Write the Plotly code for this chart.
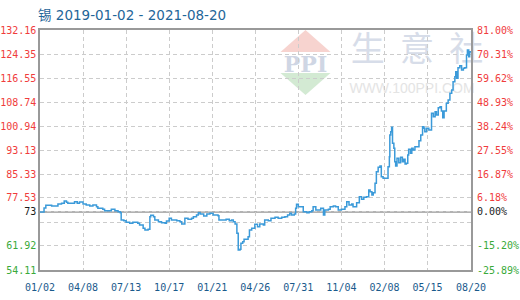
import plotly.graph_objects as go

# ---------------- data ----------------
dates = [
    "2019-01-02", "2019-01-11", "2019-01-15", "2019-01-28", "2019-02-10", "2019-02-11", "2019-02-19",
    "2019-02-25", "2019-03-02", "2019-03-05", "2019-03-19", "2019-03-20", "2019-03-26", "2019-03-31",
    "2019-04-08", "2019-04-15", "2019-04-23", "2019-04-30", "2019-05-08", "2019-05-11", "2019-05-19",
    "2019-05-22", "2019-05-26", "2019-06-03", "2019-06-10", "2019-06-18", "2019-06-25", "2019-06-30",
    "2019-07-02", "2019-07-08", "2019-07-13", "2019-07-21", "2019-07-28", "2019-08-08", "2019-08-12",
    "2019-08-20", "2019-08-24", "2019-08-31", "2019-09-04", "2019-09-06", "2019-09-12", "2019-09-15",
    "2019-09-23", "2019-09-30", "2019-10-08", "2019-10-11", "2019-10-17", "2019-10-22", "2019-11-03",
    "2019-11-10", "2019-11-14", "2019-11-19", "2019-11-21", "2019-11-28", "2019-12-06", "2019-12-10",
    "2019-12-17", "2019-12-21", "2019-12-25", "2020-01-02", "2020-01-09", "2020-01-16", "2020-01-23",
    "2020-02-03", "2020-02-05", "2020-02-14", "2020-02-21", "2020-02-28", "2020-03-04", "2020-03-08",
    "2020-03-12", "2020-03-16", "2020-03-19", "2020-03-23", "2020-03-25", "2020-03-29", "2020-04-01",
    "2020-04-05", "2020-04-10", "2020-04-13", "2020-04-18", "2020-04-25", "2020-05-01", "2020-05-06",
    "2020-05-14", "2020-05-17", "2020-05-25", "2020-05-31", "2020-06-09", "2020-06-16", "2020-06-24",
    "2020-07-01", "2020-07-07", "2020-07-12", "2020-07-16", "2020-07-22", "2020-07-25", "2020-07-27",
    "2020-07-31", "2020-08-06", "2020-08-11", "2020-08-19", "2020-08-24", "2020-08-30", "2020-09-02",
    "2020-09-08", "2020-09-13", "2020-09-19", "2020-09-25", "2020-09-28", "2020-10-06", "2020-10-10",
    "2020-10-17", "2020-10-22", "2020-10-28", "2020-11-04", "2020-11-12", "2020-11-16", "2020-11-21",
    "2020-11-27", "2020-11-30", "2020-12-04", "2020-12-08", "2020-12-14", "2020-12-19", "2020-12-24",
    "2020-12-30", "2021-01-04", "2021-01-07", "2021-01-11", "2021-01-14", "2021-01-18", "2021-01-21",
    "2021-01-25", "2021-01-29", "2021-02-01", "2021-02-05", "2021-02-13", "2021-02-16", "2021-02-19",
    "2021-02-20", "2021-02-22", "2021-02-24", "2021-02-26", "2021-03-01", "2021-03-03", "2021-03-05",
    "2021-03-08", "2021-03-12", "2021-03-16", "2021-03-20", "2021-03-23", "2021-03-26", "2021-03-29",
    "2021-04-01", "2021-04-03", "2021-04-07", "2021-04-10", "2021-04-13", "2021-04-17", "2021-04-22",
    "2021-04-26", "2021-04-30", "2021-05-04", "2021-05-07", "2021-05-09", "2021-05-13", "2021-05-18",
    "2021-05-24", "2021-05-28", "2021-06-01", "2021-06-04", "2021-06-08", "2021-06-12", "2021-06-15",
    "2021-06-18", "2021-06-21", "2021-06-26", "2021-06-30", "2021-07-04", "2021-07-08", "2021-07-11",
    "2021-07-15", "2021-07-17", "2021-07-19", "2021-07-22", "2021-07-26", "2021-07-30", "2021-08-03",
    "2021-08-06", "2021-08-10", "2021-08-12", "2021-08-15", "2021-08-17", "2021-08-20",
]
prices = [
    73.00, 74.27, 75.15, 74.92, 74.92, 75.57, 75.80,
    76.54, 76.12, 75.80, 75.80, 76.32, 75.80, 76.20,
    75.57, 75.24, 74.92, 75.24, 74.69, 74.17, 74.17,
    73.85, 73.39, 73.39, 73.85, 73.39, 73.07, 72.74,
    70.37, 70.14, 69.62, 69.29, 69.62, 69.29, 68.74,
    67.67, 67.11, 67.34, 71.42, 71.89, 71.42, 70.37,
    69.81, 69.49, 69.29, 70.04, 70.92, 70.37, 70.14,
    69.81, 69.06, 69.06, 70.92, 70.59, 70.92, 71.42,
    71.98, 72.74, 72.31, 71.67, 72.31, 72.54, 71.99,
    71.76, 70.37, 70.37, 70.59, 70.14, 70.37, 69.81,
    69.06, 66.04, 60.60, 60.84, 62.79, 63.31, 64.09,
    64.09, 64.94, 67.11, 67.67, 68.97, 68.19, 69.06,
    68.74, 70.37, 70.14, 70.92, 71.24, 70.92, 71.24,
    71.44, 71.99, 72.54, 71.99, 72.31, 74.17, 75.47,
    74.69, 74.69, 73.07, 72.74, 73.07, 73.39, 74.69,
    73.62, 73.62, 74.17, 71.99, 73.62, 73.85, 74.69,
    74.92, 74.69, 73.62, 73.85, 74.69, 76.32, 75.24,
    75.57, 74.69, 74.69, 75.99, 77.94, 77.10, 77.75,
    77.94, 80.12, 79.57, 78.50, 79.24, 82.30, 86.07,
    87.50, 87.93, 84.45, 83.93, 83.93, 87.70, 90.95,
    98.01, 99.08, 100.51, 95.31, 93.68, 89.33, 87.93,
    90.43, 89.00, 90.76, 89.33, 90.11, 88.58, 88.81,
    91.50, 93.36, 92.06, 93.68, 93.13, 94.20, 94.20,
    96.15, 98.01, 100.71, 100.19, 99.08, 100.19, 99.63,
    105.07, 103.96, 105.59, 104.51, 106.89, 107.21, 105.81,
    103.63, 105.81, 108.32, 109.39, 111.57, 112.64, 115.34,
    116.97, 118.59, 116.45, 119.90, 120.55, 119.15, 119.70,
    119.90, 124.03, 125.65, 123.47, 125.10, 124.80,
]

y_ticks = [132.16, 124.35, 116.55, 108.74, 100.94, 93.13, 85.33, 77.53, 73.00, 69.72, 61.92, 54.11]
y_labels = ["132.16", "124.35", "116.55", "108.74", "100.94", "93.13", "85.33", "77.53", "73", "", "61.92", "54.11"]
pct_labels = ["81.00%", "70.31%", "59.62%", "48.93%", "38.24%", "27.55%", "16.87%", "6.18%", "0.00%", "", "-15.20%", "-25.89%"]
x_ticks = ["2019-01-02", "2019-04-08", "2019-07-13", "2019-10-17", "2020-01-21", "2020-04-26",
           "2020-07-31", "2020-11-04", "2021-02-08", "2021-05-15", "2021-08-20"]
x_labels = ["01/02", "04/08", "07/13", "10/17", "01/21", "04/26", "07/31", "11/04", "02/08", "05/15", "08/20"]
base_price = 73.00
title_text = "锡 2019-01-02 - 2021-08-20"

# ---------------- styling ----------------
RED, GREEN, BLACK = "#f03c3c", "#3aaa3a", "#1a1a1a"
W, H = 520, 300
L, R, T, B = 40, 471, 30, 270


def colored(labels, values):
    out = []
    for lab, v in zip(labels, values):
        c = RED if v > base_price + 1e-9 else (BLACK if abs(v - base_price) < 1e-9 else GREEN)
        out.append(f'<span style="color:{c}">{lab}</span>' if lab else "")
    return out


def px(x, y):
    return (x - L) / (R - L), (B - y) / (B - T)


fig = go.Figure()
fig.add_trace(go.Scatter(x=dates, y=prices, mode="lines", line=dict(color="#3b9ad9", width=1.5, shape="hv"),
                         showlegend=False, hoverinfo="x+y"))
fig.add_trace(go.Scatter(x=dates[:1], y=prices[:1], yaxis="y2", mode="markers", opacity=0,
                         showlegend=False, hoverinfo="skip"))

# watermark (below grid)
shapes = []
ax, ay = px(280.5, 52); bx, by = px(330.5, 52); cx, cy = px(305.5, 30)
shapes.append(dict(type="path", xref="paper", yref="paper", layer="below",
                   path=f"M {ax},{ay} L {bx},{by} L {cx},{cy} Z", fillcolor="#f7d3cf", line=dict(width=0)))
ax, ay = px(280.5, 73); bx, by = px(330.5, 73); cx, cy = px(305.5, 95)
shapes.append(dict(type="path", xref="paper", yref="paper", layer="below",
                   path=f"M {ax},{ay} L {bx},{by} L {cx},{cy} Z", fillcolor="#d3ead3", line=dict(width=0)))


def label_box(x0, y0, x1, y1, text, size, color, family="Noto Sans CJK SC"):
    a, b = px(x0, y1)
    c, d = px(x1, y0)
    return dict(type="rect", xref="paper", yref="paper", layer="below", x0=a, y0=b, x1=c, y1=d,
                line=dict(width=0), fillcolor="rgba(0,0,0,0)",
                label=dict(text=text, font=dict(size=size, color=color, family=family),
                           textposition="middle center"))


shapes.append(label_box(280, 52, 331, 73, "<b>PPI</b>", 22, "#cfd6e4", "DejaVu Serif"))
shapes.append(label_box(350, 32, 484, 70, "生  意  社", 34, "#d7dde9"))
shapes.append(label_box(352, 78, 472, 95, "WWW.100PPI.COM", 14, "#e4e4e4", "Liberation Sans"))

# baseline at 73
shapes.append(dict(type="line", xref="paper", yref="y", x0=0, x1=1, y0=base_price, y1=base_price,
                   line=dict(color="#999999", width=1.5), layer="below"))

tickfont = dict(family="DejaVu Sans Mono", size=10, color=BLACK)

fig.update_layout(
    width=W, height=H,
    margin=dict(l=L, r=W - R, t=T, b=H - B, pad=0, autoexpand=False),
    paper_bgcolor="white", plot_bgcolor="white",
    title=dict(text=title_text, x=38 / W, xanchor="left", xref="container", y=1 - 15 / H, yanchor="middle",
               yref="container", font=dict(family="DejaVu Sans, Noto Sans CJK SC", size=13.5, color="#1f6699")),
    xaxis=dict(type="date", range=[x_ticks[0], x_ticks[-1]], tickvals=x_ticks, ticktext=x_labels,
               showgrid=True, gridcolor="#cccccc", griddash="4px,3px", gridwidth=1, automargin=False,
               showline=True, linecolor="#999999", linewidth=1.5, mirror=True,
               ticks="outside", ticklen=7, tickcolor="rgba(0,0,0,0)",
               tickfont=dict(family="DejaVu Sans Mono", size=10, color="#1a5a8c"), zeroline=False),
    yaxis=dict(range=[y_ticks[-1], y_ticks[0]], tickvals=y_ticks, ticktext=colored(y_labels, y_ticks),
               showgrid=True, gridcolor="#cccccc", griddash="4px,3px", gridwidth=1, automargin=False,
               showline=True, linecolor="#999999", linewidth=1.5, mirror=True,
               ticks="", tickfont=tickfont, zeroline=False),
    yaxis2=dict(range=[y_ticks[-1], y_ticks[0]], tickvals=y_ticks, ticktext=colored(pct_labels, y_ticks),
                overlaying="y", side="right", showgrid=False, showline=False, zeroline=False, automargin=False,
                ticks="outside", ticklen=3, tickcolor="rgba(0,0,0,0)", tickfont=tickfont),
    shapes=shapes,
)

fig.write_html("out.html")
